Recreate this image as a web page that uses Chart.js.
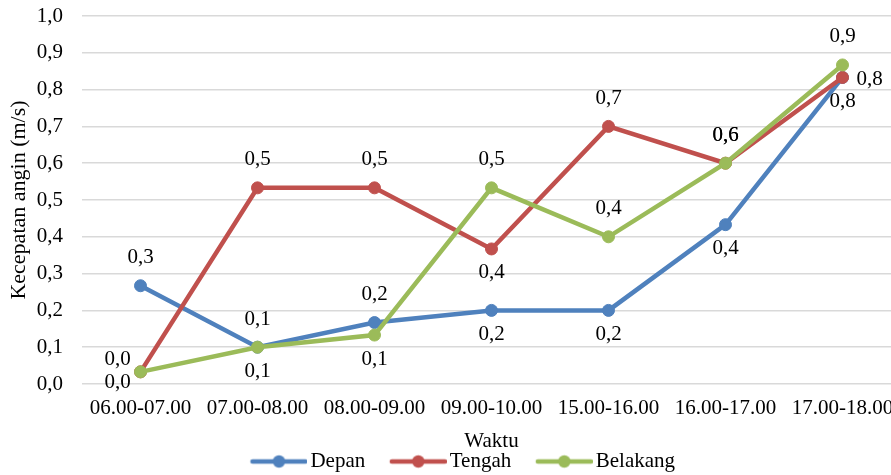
<!DOCTYPE html>
<html>
<head>
<meta charset="utf-8">
<script src="https://cdn.jsdelivr.net/npm/chart.js@4.4.1/dist/chart.umd.min.js"></script>
<style>
  html, body { margin: 0; padding: 0; background: #fff; overflow: hidden; width: 891px; height: 475px; }
  #wrap { position: absolute; left: 0; top: 0; width: 910px; height: 482px; }
</style>
</head>
<body>
<div id="wrap"><canvas id="chart" width="910" height="482"></canvas></div>
<script>
// Time slots on the x axis
const categories = ['06.00-07.00', '07.00-08.00', '08.00-09.00', '09.00-10.00', '15.00-16.00', '16.00-17.00', '17.00-18.00'];

// Mean wind speed (m/s) per measuring position
const depan    = [0.267, 0.100, 0.167, 0.200, 0.200, 0.433, 0.833];
const tengah   = [0.033, 0.533, 0.533, 0.367, 0.700, 0.600, 0.833];
const belakang = [0.033, 0.100, 0.133, 0.533, 0.400, 0.600, 0.867];

// Where each value label sits relative to its point
const depanLabelPos    = ['above', 'below', 'above', 'below', 'below', 'below', 'below'];
const tengahLabelPos   = ['leftDown', 'above', 'above', 'below', 'above', 'above', 'right'];
const belakangLabelPos = ['leftUp', 'above', 'below', 'above', 'above', 'above', 'above'];

// Y axis range and step
const yMin = 0;
const yMax = 1;
const yStep = 0.1;

const FONT = '"Liberation Serif", "Times New Roman", serif';
const COLORS = { depan: '#4F81BD', tengah: '#C0504D', belakang: '#9BBB59' };

const fmt = v => v.toFixed(1).replace('.', ',');

const LABEL_OFFSETS = {
  above: [0, -28],
  below: [0, 24],
  right: [27, 2],
  leftUp: [-23, -12],
  leftDown: [-23, 11]
};

// Legend marker: a short line with a dot in the middle
const LEGEND_BOX = 74;
function legendIcon(color) {
  const c = document.createElement('canvas');
  c.width = LEGEND_BOX + 15;
  c.height = 16;
  const g = c.getContext('2d');
  g.strokeStyle = color;
  g.lineWidth = 4.5;
  g.lineCap = 'round';
  g.beginPath();
  g.moveTo(34, 8);
  g.lineTo(87, 8);
  g.stroke();
  g.fillStyle = color;
  g.beginPath();
  g.arc(60.5, 8, 6.2, 0, Math.PI * 2);
  g.fill();
  return c;
}

const valueLabels = {
  id: 'valueLabels',
  afterDatasetsDraw(chart) {
    const ctx = chart.ctx;
    ctx.save();
    ctx.font = '21px ' + FONT;
    ctx.fillStyle = '#000';
    ctx.textAlign = 'center';
    ctx.textBaseline = 'middle';
    chart.data.datasets.forEach((ds, i) => {
      const meta = chart.getDatasetMeta(i);
      meta.data.forEach((pt, j) => {
        const off = LABEL_OFFSETS[ds.labelPos[j]];
        ctx.fillText(fmt(ds.data[j]), pt.x + off[0], pt.y + off[1]);
      });
    });
    ctx.restore();
  }
};

function series(label, data, color, labelPos, order) {
  return {
    label, data, labelPos, order,
    borderColor: color,
    backgroundColor: color,
    borderWidth: 4.5,
    pointRadius: 6,
    pointBorderWidth: 1,
    pointBackgroundColor: color,
    pointBorderColor: color,
    tension: 0,
    fill: false
  };
}

const icons = [legendIcon(COLORS.depan), legendIcon(COLORS.tengah), legendIcon(COLORS.belakang)];

new Chart(document.getElementById('chart'), {
  type: 'line',
  data: {
    labels: categories,
    datasets: [
      series('Depan', depan, COLORS.depan, depanLabelPos, 3),
      series('Tengah', tengah, COLORS.tengah, tengahLabelPos, 2),
      series('Belakang', belakang, COLORS.belakang, belakangLabelPos, 1)
    ]
  },
  options: {
    responsive: false,
    animation: false,
    devicePixelRatio: 1,
    layout: { padding: { top: 16, right: 9, left: 0, bottom: 0 } },
    plugins: {
      tooltip: { enabled: false },
      legend: {
        position: 'bottom',
        labels: {
          usePointStyle: true,
          pointStyleWidth: LEGEND_BOX,
          padding: 0,
          color: '#000',
          font: { family: FONT, size: 21 },
          generateLabels(chart) {
            return chart.data.datasets.map((ds, i) => ({
              text: ds.label,
              pointStyle: icons[i],
              fillStyle: ds.borderColor,
              strokeStyle: ds.borderColor,
              lineWidth: 0,
              hidden: false,
              datasetIndex: i
            }));
          }
        }
      }
    },
    scales: {
      x: {
        offset: true,
        grid: { display: false, drawTicks: false },
        border: { display: false },
        ticks: { color: '#000', font: { family: FONT, size: 21 }, padding: 12, maxRotation: 0, autoSkip: false },
        title: { display: true, text: 'Waktu', color: '#000', font: { family: FONT, size: 21 }, padding: { top: 0, bottom: -2.6 } },
        afterFit(scale) { scale.height = 67; }
      },
      y: {
        min: yMin,
        max: yMax,
        grid: { color: '#d9d9d9', lineWidth: 1.5, drawTicks: true, tickLength: 16, tickColor: 'rgba(0,0,0,0)' },
        border: { display: false },
        ticks: {
          stepSize: yStep,
          color: '#000',
          font: { family: FONT, size: 21 },
          padding: 3,
          callback: v => fmt(v)
        },
        title: { display: true, text: 'Kecepatan angin (m/s)', color: '#000', font: { family: FONT, size: 22 }, padding: { top: 6, bottom: 0 } },
        afterFit(scale) { scale.width = 82; }
      }
    }
  },
  plugins: [valueLabels]
});
</script>
</body>
</html>
